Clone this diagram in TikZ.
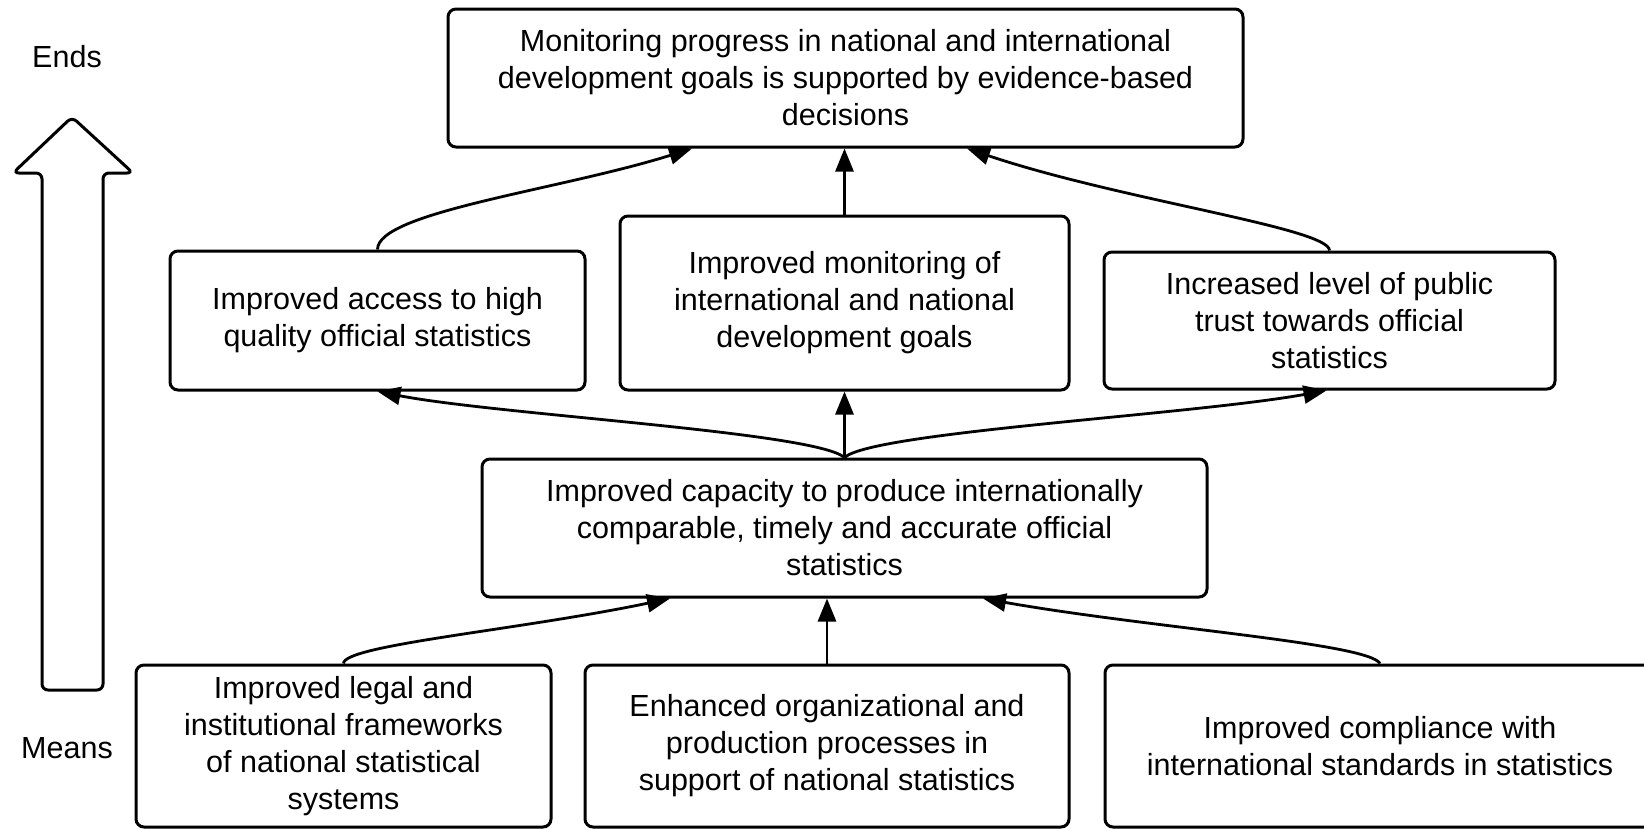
\documentclass[tikz,border=0pt]{standalone}
\usepackage{fontspec}
\setmainfont{Liberation Sans}
\usetikzlibrary{arrows.meta,calc}
\begin{document}
\begin{tikzpicture}[x=1pt,y=-1pt,
  txt/.style={font=\fontsize{30.5}{37}\selectfont},
  box/.style={draw,line width=3pt,rounded corners=8pt,inner sep=0pt,align=center,txt},
  arr/.style={line width=2.8pt,-{Triangle[length=23pt,width=18pt]}},
  lbl/.style={txt,inner sep=0pt}]
\clip (0,0) rectangle (1644,830);
\fill[white] (0,0) rectangle (1644,830);
% side labels and hollow arrow
\node[lbl] (ends) at (67,57) {Ends};
\node[lbl] (means) at (67,748) {Means};
\draw[line width=3pt,rounded corners=6pt] (42,690) -- (42,173) -- (13,173) -- (72,117) -- (133,173) -- (103,173) -- (103,690) -- cycle;
% boxes
\node[box,minimum width=795pt,minimum height=138pt] (top) at (845.5,78) {Monitoring progress in national and international\\development goals is supported by evidence-based\\decisions};
\node[box,minimum width=415pt,minimum height=139pt] (ML) at (377.5,320.5) {Improved access to high\\quality official statistics};
\node[box,minimum width=449pt,minimum height=174pt] (MC) at (844.5,303) {Improved monitoring of\\international and national\\development goals};
\node[box,minimum width=451pt,minimum height=137pt] (MR) at (1329.5,320.5) {Increased level of public\\trust towards official\\statistics};
\node[box,minimum width=725pt,minimum height=138pt] (cap) at (844.5,528) {Improved capacity to produce internationally\\comparable, timely and accurate official\\statistics};
\node[box,minimum width=415pt,minimum height=162pt] (BL) at (343.5,746) {Improved legal and\\institutional frameworks\\of national statistical\\systems};
\node[box,minimum width=484pt,minimum height=162pt] (BC) at (827,746) {Enhanced organizational and\\production processes in\\support of national statistics};
\node[box,minimum width=550pt,minimum height=162pt] (BR) at (1380,746) {Improved compliance with\\international standards in statistics};
% connectors
\draw[arr] (ML.north) .. controls (377.5,212) and (560,190) .. ([xshift=-153.5pt]top.south);
\draw[arr] (MC.north) -- (MC.north |- top.south);
\draw[arr] (MR.north) .. controls (1329.5,228) and (1120,200) .. ([xshift=121.5pt]top.south);
\draw[arr] (cap.north) .. controls (815,432) and (500,415) .. (ML.south);
\draw[arr] (cap.north) -- (MC.south);
\draw[arr] (cap.north) .. controls (873,432) and (1190,415) .. ([xshift=-3pt]MR.south);
\draw[arr] (BL.north) .. controls (343.5,645) and (520,630) .. ([xshift=-174.5pt]cap.south);
\draw[arr] (BC.north) -- (BC.north |- cap.south);
\draw[arr] (BR.north) .. controls (1368,643) and (1150,628) .. ([xshift=138.5pt]cap.south);
\end{tikzpicture}
\end{document}
